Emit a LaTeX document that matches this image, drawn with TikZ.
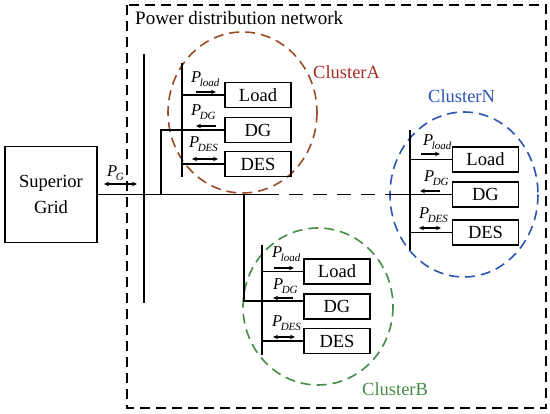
\documentclass[tikz,border=0pt]{standalone}
\usepackage{fontspec}
\setmainfont{Liberation Serif}
\usetikzlibrary{arrows.meta,calc}
\definecolor{clAtxt}{RGB}{170,45,40}
\definecolor{clAline}{RGB}{155,75,40}
\definecolor{clN}{RGB}{45,85,180}
\definecolor{clB}{RGB}{70,140,70}
\newcommand{\Psub}[1]{\textit{P}\kern-1.5pt\raisebox{-3.5pt}{\fontsize{11}{11}\selectfont\textit{#1}}}
\begin{document}
\begin{tikzpicture}[x=1pt,y=-1pt,
 box/.style={draw,line width=1.4pt,minimum width=66pt,minimum height=25pt,inner sep=0pt,font=\fontsize{18.5}{18.5}\selectfont},
 bus/.style={line width=1.8pt},
 wire/.style={line width=1.4pt},
 flow/.style={line width=1.2pt,-{Stealth[length=5pt,width=4.5pt]}},
 flowtwo/.style={line width=1.2pt,{Stealth[length=5pt,width=4.5pt]}-{Stealth[length=5pt,width=4.5pt]}},
 plab/.style={anchor=base west,inner sep=0pt,font=\fontsize{16.5}{16.5}\selectfont},
 clus/.style={dash pattern=on 10pt off 6pt,line width=1.6pt},
 clab/.style={anchor=base west,inner sep=0pt,font=\fontsize{18.5}{18.5}\selectfont}]
\useasboundingbox (0,0) rectangle (550,414);
\fill[white] (0,0) rectangle (550,414);

% outer network frame
\draw[dash pattern=on 10pt off 6pt,line width=1.8pt] (127,5) rectangle (546,408);
\node[anchor=base west,inner sep=0pt,font=\fontsize{19}{19}\selectfont] (title) at (135,25) {Power distribution network};

% superior grid
\node[draw,line width=1.4pt,minimum width=92pt,minimum height=96pt,align=center,inner sep=0pt,
      font=\fontsize{18.5}{26}\selectfont] (grid) at (51,194.5) {Superior\\Grid};

% coordinates
\coordinate (mainTop) at (144,54);
\coordinate (mainBot) at (144,303);
\coordinate (jA) at (161,194.5);
\coordinate (jB) at (244,194.5);
\coordinate (jB2) at (244,301);
\coordinate (m1) at (265,194.5);
\coordinate (m2) at (395,194.5);
\coordinate (busAtop) at (182,63);
\coordinate (busAbot) at (182,177);
\coordinate (busNtop) at (410,130);
\coordinate (busNbot) at (410,250);
\coordinate (busBtop) at (262,245);
\coordinate (busBbot) at (262,355);
\coordinate (mN) at (410,194.5);

% cluster ellipses
\draw[clus,clAline] (242.5,112.5) ellipse [x radius=74.5,y radius=80.5];
\draw[clus,clN] (464,194.5) ellipse [x radius=74,y radius=82.5];
\draw[clus,clB] (318,306.5) ellipse [x radius=75,y radius=78.5];

% main bus and line
\draw[bus] (mainTop) -- (mainBot);
\draw[wire] (grid.east) -- (m1);
\draw[wire,dash pattern=on 14pt off 10pt] (m1) -- (m2);
\draw[wire] (m2) -- (mN);

% P_G
\draw[flowtwo] (104,184) -- (137,184);
\node[plab] (pG) at (107,177) {\Psub{G}};

% ---------- Cluster A ----------
\node[box] (loadA) at (258,95) {Load};
\node[box] (dgA) at (258,130) {DG};
\node[box] (desA) at (258,164) {DES};
\draw[bus] (busAtop) -- (busAbot);
\draw[wire] (loadA.west) -- (loadA.west -| busAtop);
\draw[wire] (dgA.west) -| (jA);
\draw[wire] (desA.west) -- (desA.west -| busAtop);
\draw[flow] (196,92) -- (216,92);
\draw[flow] (216,126) -- (196,126);
\draw[flowtwo] (192,159) -- (218,159);
\node[plab] (plA) at (191,83) {\Psub{load}};
\node[plab] (pdA) at (191,116) {\Psub{DG}};
\node[plab] (psA) at (189,148) {\Psub{DES}};
\node[clab,text=clAtxt] (labA) at (313,79) {ClusterA};

% ---------- Cluster N ----------
\node[box] (loadN) at (485.5,159.5) {Load};
\node[box] (dgN) at (485.5,194.5) {DG};
\node[box] (desN) at (485.5,232.5) {DES};
\draw[bus] (busNtop) -- (busNbot);
\draw[wire] (loadN.west) -- (loadN.west -| busNtop);
\draw[wire] (dgN.west) -- (dgN.west -| busNtop);
\draw[wire] (desN.west) -- (desN.west -| busNtop);
\draw[flow] (421,154) -- (440,154);
\draw[flow] (440,191) -- (420,191);
\draw[flowtwo] (419,228) -- (441,228);
\node[plab] (plN) at (423,146) {\Psub{load}};
\node[plab] (pdN) at (424,182) {\Psub{DG}};
\node[plab] (psN) at (419,219) {\Psub{DES}};
\node[clab,text=clN] (labN) at (428,103) {ClusterN};

% ---------- Cluster B ----------
\node[box] (loadB) at (337,271.5) {Load};
\node[box] (dgB) at (337,306.5) {DG};
\node[box] (desB) at (337,341) {DES};
\draw[bus] (busBtop) -- (busBbot);
\draw[wire] (jB) -- (jB2) -- (jB2 -| dgB.west);
\draw[wire] (loadB.west) -- (loadB.west -| busBtop);
\draw[wire] (desB.west) -- (desB.west -| busBtop);
\draw[flow] (274,268) -- (294,268);
\draw[flow] (293,298) -- (273,298);
\draw[flowtwo] (273,337) -- (295,337);
\node[plab] (plB) at (272,258) {\Psub{load}};
\node[plab] (pdB) at (273,290) {\Psub{DG}};
\node[plab] (psB) at (272,327) {\Psub{DES}};
\node[clab,text=clB] (labB) at (362,396) {ClusterB};
\end{tikzpicture}
\end{document}
